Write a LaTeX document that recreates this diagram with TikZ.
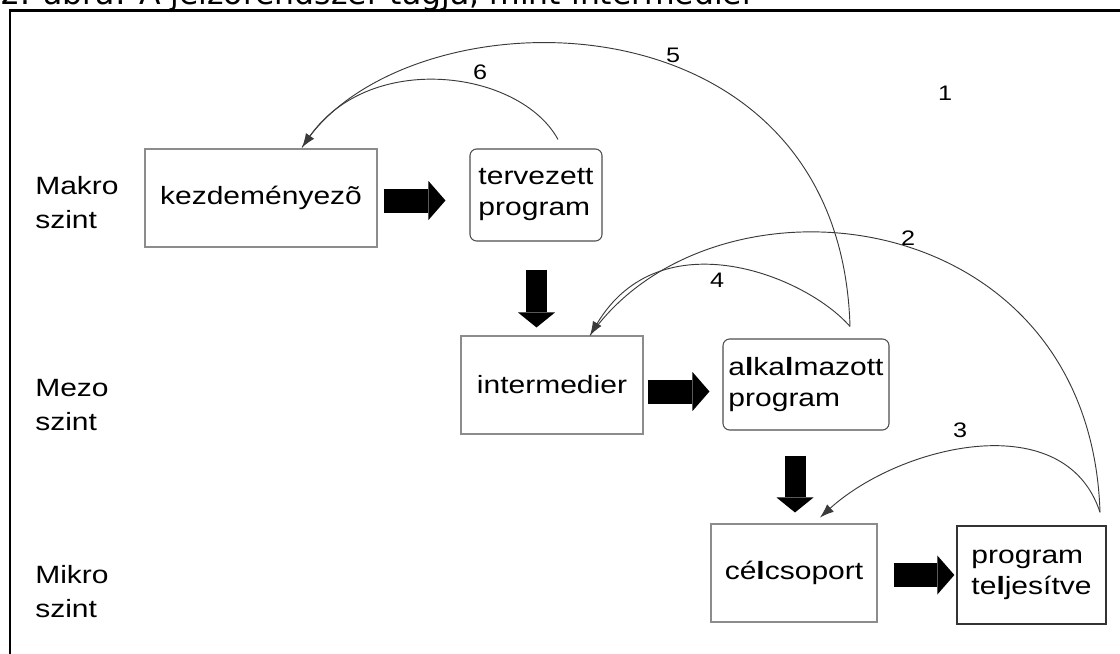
\documentclass[tikz,border=0pt]{standalone}
\usepackage{fontspec}
\setmainfont{Liberation Sans}[FakeStretch=1.2]
\newfontfamily\titlefont{DejaVu Sans}
\usetikzlibrary{arrows.meta,calc}
\definecolor{boxgray}{HTML}{8C8C8C}
\definecolor{rgray}{HTML}{4D4D4D}
\definecolor{darkb}{HTML}{333333}
\definecolor{curvecol}{HTML}{3A3A3A}
\begin{document}
\begin{tikzpicture}[x=0.75pt,y=-0.75pt,
  lbl/.style={font=\fontsize{18.75pt}{25.5pt}\selectfont, align=left, inner sep=0pt, anchor=west},
  plainbox/.style={draw=boxgray, line width=0.8pt, inner sep=0pt,
     font=\fontsize{18.75pt}{23.25pt}\selectfont, align=left},
  roundbox/.style={plainbox, draw=rgray, rounded corners=5pt},
  darkbox/.style={plainbox, draw=darkb, line width=1pt},
  curve/.style={draw=curvecol, line width=0.7pt},
  tip/.style={-{Latex[length=10.5pt,width=7.5pt]}},
  num/.style={font=\fontsize{15.75pt}{18pt}\selectfont, inner sep=0pt},
  hblock/.style={line width=18pt, -{Triangle[length=12.75pt,width=29.25pt,line width=0pt]}},
  vblock/.style={line width=15.75pt, -{Triangle[length=11.25pt,width=27.75pt,line width=0pt]}}
]
\useasboundingbox (0,0) rectangle (1120,653);
\clip (0,0) rectangle (1120,653);

% title (cut off at the top in the reference) and frame
\node[anchor=base west, inner sep=0pt, font=\titlefont\fontsize{23.6pt}{28pt}\selectfont] (title) at (0,4)
  {2. ábra: A jelzőrendszer tagja, mint intermedier};
\draw[line width=1.9pt] (10,10.5) rectangle (1140,680);

% level labels
\node[lbl] (makro) at (35,203) {Makro\\szint};
\node[lbl] (mezo)  at (35,405) {Mezo\\szint};
\node[lbl] (mikro) at (35,592) {Mikro\\szint};

% boxes
\node[plainbox, minimum width=174pt, minimum height=73.5pt] (kez) at (261,198) {kezdeményezõ};
\node[roundbox, minimum width=99pt, minimum height=69pt] (terv) at (536,195) {tervezett\\program};
\node[plainbox, minimum width=136.5pt, minimum height=73.5pt] (inter) at (552,385) {intermedier};
\node[roundbox, minimum width=124.5pt, minimum height=68.25pt] (alk) at (806,384.5) {a\textbf{l}ka\textbf{l}mazott\\program};
\node[plainbox, minimum width=124.5pt, minimum height=73.5pt] (cel) at (794,573) {cé\textbf{l}csoport};
\node[darkbox, minimum width=111.75pt, minimum height=73.5pt] (prog) at (1031.5,575) {program\\te\textbf{l}jesítve};

% block arrows
\draw[hblock] ($(kez.east)+(6,2.5)$) -- ($(terv.west)+(-24,5.5)$);
\draw[vblock] ($(terv.south)+(0.5,28)$) -- ($(inter.north)+(-15.5,-8)$);
\draw[hblock] ($(inter.east)+(4,6.5)$) -- ($(alk.west)+(-13,7)$);
\draw[vblock] ($(alk.south)+(-11,25)$) -- ($(cel.north)+(1,-11)$);
\draw[hblock] ($(cel.east)+(16,2)$) -- ($(prog.west)+(-2,0)$);

% feedback curves
\coordinate (s6) at ($(terv.north)+(22,-9)$);
\coordinate (s45) at ($(alk.north)+(44,-12)$);
\coordinate (s23) at ($(prog.north)+(68.5,-13)$);
\coordinate (tkez) at ($(kez.north)+(41,-1)$);
\coordinate (tint) at ($(inter.north)+(38,0)$);
\coordinate (tcel) at ($(cel.north)+(26,-6)$);

\draw[curve] (s45) .. controls (840,-20) and (400,-10) .. (tkez);
\draw[curve,tip] (s6) .. controls (520,70) and (370,50) .. (tkez);
\draw[curve] (s23) .. controls (1090,200) and (713,160) .. (tint);
\draw[curve,tip] (s45) .. controls (805,275) and (660,218) .. (tint);
\draw[curve,tip] (s23) .. controls (1065,405) and (900,445) .. (tcel);

% numbers
\node[num] (n1) at (945,93) {1};
\node[num] (n2) at (908,238) {2};
\node[num] (n3) at (960,430) {3};
\node[num] (n4) at (717,280) {4};
\node[num] (n5) at (673,55) {5};
\node[num] (n6) at (480,72) {6};
\end{tikzpicture}
\end{document}
